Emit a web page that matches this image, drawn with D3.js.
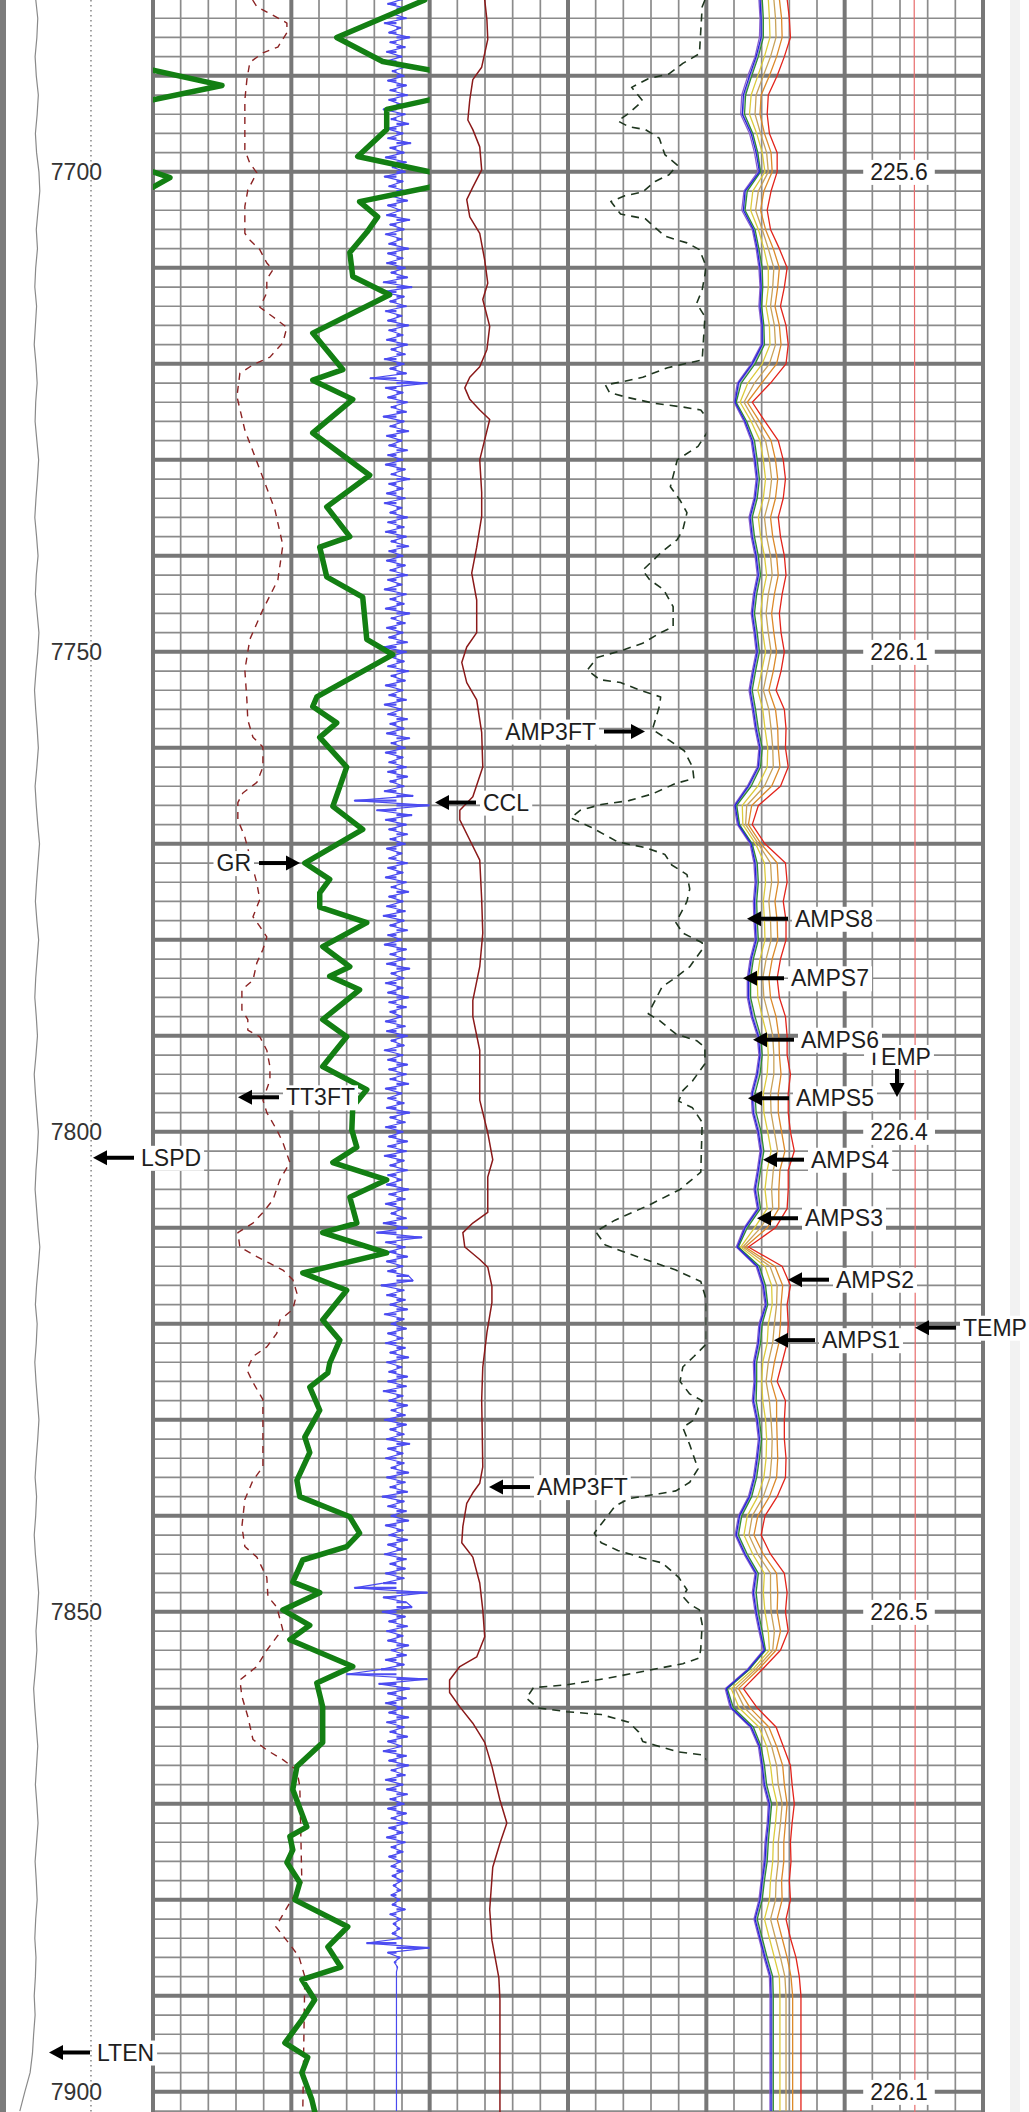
<!DOCTYPE html>
<html>
<head>
<meta charset="utf-8">
<script src="https://cdn.jsdelivr.net/npm/d3@7"></script>
<style>
  html, body { margin: 0; padding: 0; background: #fff; }
  svg { display: block; }
  text { font-family: "Liberation Sans", Arial, sans-serif; }
</style>
</head>
<body>
<svg id="log" width="1029" height="2112"></svg>
<script>
// ---------------- depth window ----------------
const depthTop = 7682.1;
const depthBottom = 7902.1;
const depthLabels = [7700, 7750, 7800, 7850, 7900];

// ---------------- track 1 : GR (API, wraps at 150), TT3FT (us), CCL ----------------
const grDepth = [7682.1,7686.0,7688.5,7689.4,7691.0,7692.5,7693.5,7695.6,7698.4,7700.0,
  7700.6,7701.6,7703.1,7704.7,7706.3,7708.4,7710.9,7712.8,7716.8,7720.6,
  7721.7,7723.7,7727.2,7731.6,7734.9,7738.0,7739.1,7742.2,7744.3,7748.7,
  7750.3,7754.7,7755.7,7757.4,7758.9,7762.0,7766.1,7768.5,7772.0,7773.7,
  7775.1,7776.6,7778.2,7780.7,7782.8,7783.8,7785.2,7788.3,7790.1,7793.2,
  7795.6,7797.4,7799.8,7801.6,7803.2,7805.0,7806.8,7809.5,7810.5,7812.6,
  7814.7,7816.5,7819.6,7821.7,7824.1,7825.1,7826.6,7829.0,7831.8,7833.4,
  7836.3,7838.0,7840.1,7841.8,7843.2,7844.6,7846.9,7848.0,7849.8,7851.4,
  7852.9,7855.7,7857.4,7859.9,7863.6,7866.1,7868.5,7872.4,7873.4,7874.8,
  7876.1,7878.2,7880.0,7882.8,7884.9,7887.0,7888.3,7890.4,7892.5,7894.9,
  7896.4,7898.0,7900.8,7902.1];
const grValue = [147.3,99.6,124.5,150,187.4,150,126.7,126.7,111,150,
  159.2,150,112,121.8,115.9,106.7,108.3,128.3,86.6,102.9,
  86.6,108.3,86.6,117.5,94.2,106.7,90.4,94.2,113.7,115.9,
  130,88.8,86.6,99.6,90.4,105,97.5,113.7,82.3,95.8,
  90.4,90.4,115.9,92,106.7,95.8,112,92,105,92,
  115.9,108.3,107.8,110.5,97.5,126.7,106.7,110.5,92,126.7,
  81.2,105,92,101.3,95.8,94.8,85,90.4,82.3,85,
  78,79.6,106.7,112,105,81.2,75.8,90.4,70.4,85,
  74.2,108.3,88.8,92,92,78,75.8,83.4,74.2,75.8,
  72.6,79.6,76.9,105.6,94.8,101.8,80.7,87.7,80.7,71.5,
  83.9,80.7,86.1,87.7];

const tt3Depth = [7682.1,7682.8,7683.9,7684.5,7685.5,7687.0,7687.6,7688.6,7690.4,7692.5,7697.7,
  7699.1,7700.1,7701.9,7703.6,7706.4,7707.1,7708.1,7709.5,7710.2,7711.2,
  7712.6,7714.1,7715.1,7716.2,7717.8,7719.3,7720.1,7721.0,7723.4,7726.9,
  7731.0,7735.2,7738.9,7742.5,7745.6,7748.7,7751.9,7755.0,7757.1,7758.9,
  7759.9,7762.0,7763.6,7764.7,7765.7,7767.5,7769.3,7774.1,7775.8,7777.6,
  7778.6,7779.7,7781.0,7782.4,7784.2,7785.2,7787.3,7788.3,7789.4,7790.1,
  7791.5,7793.2,7794.6,7796.7,7798.0,7799.8,7801.1,7803.2,7805.0,7807.1,
  7808.4,7809.5,7810.5,7812.0,7813.0,7813.7,7814.4,7815.4,7816.8,7818.5,
  7819.6,7821.0,7822.4,7823.4,7824.8,7826.1,7827.9,7834.9,7836.3,7838.3,
  7841.1,7843.2,7844.3,7846.4,7848.4,7849.5,7851.9,7852.6,7854.0,7855.7,
  7857.1,7858.8,7860.9,7863.3,7864.4,7865.4,7866.5,7868.2,7878.2,7880.3,
  7882.8,7884.5,7885.9,7888.0,7902.1];
const tt3Value = [254.0,256.3,267.1,272.6,272.6,267.7,259.6,252.5,250.9,249.8,249.8,
  252.5,256.3,251.4,249.8,249.8,252.5,257.9,261.7,265.0,261.7,
  261.7,257.9,265.0,272.6,270.4,263.4,254.2,247.1,245.5,249.8,
  257.9,266.1,270.4,267.7,259.6,252.5,249.8,250.9,251.4,254.2,
  259.6,259.6,256.3,248.7,246.0,246.0,249.8,256.3,257.9,254.2,
  257.9,261.7,259.6,256.3,254.2,248.2,248.2,251.4,251.4,257.9,
  261.7,263.4,263.4,259.6,261.7,267.1,270.4,274.2,268.8,265.0,
  259.6,254.2,246.0,247.1,256.3,263.4,270.4,275.8,278.0,275.8,
  268.8,267.1,261.7,254.2,250.9,254.2,259.6,259.6,254.2,249.8,
  248.2,249.8,256.3,261.7,262.3,267.1,270.4,267.1,261.7,256.3,
  247.1,248.2,251.4,254.2,261.7,270.4,278.0,279.6,280.7,274.2,
  266.6,273.6,279.1,282.3,281.2];

// CCL sampled every 0.5 ft from cclStart
const cclStart = 7682.0;
const cclStep = 0.5;
const cclValue = [
  0.6,-0.8,1.0,-0.5,0.9,-1.1,0.4,-0.7,1.2,-0.6,0.8,-0.9,0.5,-1.0,1.1,-0.4,0.7,-0.8,0.9,-0.6,
  1.0,-0.7,0.5,-1.2,0.8,-0.5,1.1,-0.9,0.6,-0.8,1.3,-0.6,0.7,-1.0,0.9,-0.4,0.8,-1.1,0.6,-0.7,
  0.9,-0.5,1.0,-0.8,0.4,-0.9,1.2,-0.6,0.7,-1.0,0.5,-0.7,1.1,-0.8,0.6,-0.9,0.8,-0.5,1.0,-1.2,
  1.4,-1.3,0.7,-0.6,0.9,-1.0,0.5,-0.8,1.1,-0.7,0.6,-0.9,1.0,-0.5,0.8,-1.1,0.7,-0.6,0.9,-2.4,
  2.8,-1.0,0.6,-0.8,1.0,-0.5,0.9,-1.2,0.7,-0.6,1.1,-0.9,0.5,-0.7,1.0,-0.8,0.6,-1.0,0.8,-0.5,
  1.2,-0.7,0.6,-0.9,0.8,-1.1,0.5,-0.6,1.0,-0.8,0.7,-1.0,0.9,-0.5,1.1,-0.7,0.6,-0.9,0.8,-0.6,
  1.0,-0.8,0.5,-1.1,0.9,-0.6,0.7,-1.0,1.2,-0.5,0.8,-0.9,0.6,-0.7,1.0,-1.2,0.9,-0.6,0.7,-0.8,
  1.1,-0.5,0.8,-1.0,0.6,-0.7,0.9,-1.1,0.5,-0.8,1.0,-0.6,0.7,-0.9,1.2,-0.5,0.8,-1.0,0.6,-0.7,
  0.9,-0.8,1.0,-0.6,0.7,-1.1,1.5,-3.8,3.0,-1.8,1.4,-1.0,0.9,-0.7,1.0,-0.6,0.8,-0.9,0.5,-0.7,
  1.0,-0.8,0.6,-1.0,0.9,-0.5,1.1,-0.7,0.6,-0.9,0.8,-1.2,0.7,-0.6,1.0,-0.8,0.5,-1.1,0.9,-0.6,
  0.8,-0.9,1.2,-0.5,0.7,-1.0,0.6,-0.8,1.1,-0.7,0.9,-0.6,0.5,-1.0,0.8,-0.9,1.0,-0.5,0.7,-1.1,
  0.6,-0.8,1.0,-0.7,0.9,-0.6,1.1,-1.0,0.5,-0.8,0.7,-0.9,1.2,-0.6,0.8,-1.0,0.6,-0.7,1.0,-0.8,
  0.9,-1.1,0.7,-0.6,1.0,-0.8,0.5,-0.9,1.1,-0.7,0.8,-1.0,0.6,-0.5,0.9,-1.2,1.0,-1.8,2.3,-1.0,
  0.8,-0.7,1.0,-0.9,0.6,-0.8,1.1,1.5,-1.4,0.7,-0.9,0.8,-0.6,1.0,-1.1,0.7,-0.5,0.9,-0.8,0.6,
  -1.0,0.8,-0.6,1.1,-0.9,0.5,-0.7,1.0,-0.8,0.9,-1.2,0.6,-0.7,1.0,-0.5,0.8,-1.1,0.9,-0.6,0.7,
  -0.9,1.2,-0.8,0.6,-1.0,0.7,-0.5,1.1,-0.9,0.8,-0.6,1.0,-1.3,0.7,-0.8,0.9,-0.5,1.1,-1.0,0.6,
  -0.7,1.0,-0.8,0.5,-1.1,0.9,-0.6,0.8,-1.0,0.7,-1.2,-3.8,2.8,-1.2,0.9,1.4,-1.3,0.8,-0.7,1.0,
  -0.9,0.6,-0.8,1.1,-0.5,0.9,-1.0,0.7,-1.4,-4.5,2.8,-1.6,1.2,-0.8,0.9,-1.0,0.6,-0.7,1.1,-0.9,
  0.7,-0.6,1.0,-0.8,0.5,-1.2,0.9,-0.7,1.1,-0.5,0.8,-1.0,0.6,-0.9,1.0,-0.6,0.7,-0.8,0.9,-0.5,
  1.0,-0.7,0.6,-0.9,0.8,-0.5,0.6,-0.7,0.4,-0.5,0.6,-0.4,0.5,-0.3,0.4,-0.5,0.3,-0.4,0.8,-0.6,
  0.4,-0.3,0.3,-0.4,0.5,-2.7,3.0,-0.8,0.3,-0.2,0.1,0,0,0,0,0,0,0,0,0,
  0,0,0,0,0,0,0,0,0,0,0,0,0,0,0,0,0,0,0,0,0];

// ---------------- track 2 : AMP3FT (mV) and AMP3FT x5 (dashed) ----------------
const ampDepth = [7682.1,7684.2,7686.2,7689.1,7690.4,7692.5,7694.6,7695.6,7697.4,7699.8,
  7701.6,7702.9,7704.7,7706.4,7709.2,7711.6,7713.3,7716.1,7718.5,7720.3,
  7721.4,7722.5,7723.7,7724.8,7725.8,7727.9,7730.0,7733.4,7735.9,7739.1,
  7741.8,7744.6,7748.0,7749.5,7751.1,7753.2,7755.0,7758.4,7762.0,7765.1,
  7766.5,7767.5,7769.6,7771.7,7775.8,7779.3,7782.8,7786.3,7788.0,7791.5,
  7796.7,7800.1,7802.9,7804.7,7808.4,7809.5,7810.5,7812.0,7813.3,7814.1,
  7816.1,7817.8,7820.9,7824.5,7827.9,7834.9,7836.6,7837.6,7838.7,7841.1,
  7842.8,7844.3,7847.0,7849.8,7852.6,7854.7,7855.7,7857.1,7858.4,7859.9,
  7861.6,7863.6,7866.1,7869.6,7872.0,7874.1,7876.6,7881.0,7884.2,7888.1,
  7890.4,7902.1];
const ampValue = [19.9,20.7,21.0,18.8,15.6,14.5,13.8,15.6,18.1,18.8,
  15.6,13.4,14.5,18.1,19.9,21.0,19.2,21.7,20.7,18.1,
  14.5,12.7,14.5,18.1,21.7,19.9,18.1,18.8,18.8,17.0,
  15.2,17.0,17.0,13.4,11.6,13.4,17.0,18.8,19.2,15.6,
  10.9,10.9,14.5,18.1,18.8,19.2,18.1,15.6,15.6,18.1,
  18.1,21.0,22.8,21.0,21.0,15.6,12.0,12.7,18.1,21.0,
  22.5,22.5,20.7,19.2,18.8,19.2,18.1,15.6,13.4,12.0,
  11.6,15.6,18.1,19.2,19.9,17.0,10.9,7.2,7.2,10.9,
  15.6,19.9,22.5,25.4,27.9,25.4,22.8,21.7,22.5,25.0,
  25.4,25.4];

const ampHiDepth = [7682.1,7682.8,7687.7,7688.7,7689.8,7690.3,7691.2,7692.6,7693.9,7694.7,
  7695.3,7695.6,7696.5,7698.2,7699.3,7700.3,7701.0,7702.1,7702.5,7703.1,
  7704.4,7704.9,7706.7,7707.4,7708.1,7709.9,7712.3,7713.7,7715.1,7719.6,
  7720.4,7721.4,7721.9,7722.2,7723.0,7723.5,7724.1,7724.5,7724.8,7726.4,
  7728.6,7730.0,7732.8,7734.2,7735.5,7737.3,7738.3,7739.7,7741.5,7742.5,
  7743.5,7745.3,7747.4,7748.0,7749.1,7749.8,7750.6,7751.9,7752.9,7753.2,
  7754.0,7754.7,7755.7,7758.1,7759.2,7760.3,7762.0,7763.2,7763.7,7764.8,
  7765.5,7765.9,7766.5,7767.3,7768.3,7769.8,7770.4,7771.1,7772.2,7773.2,
  7774.7,7776.0,7778.2,7779.3,7780.3,7781.0,7782.8,7783.9,7784.9,7787.7,
  7788.4,7789.8,7790.5,7791.2,7792.9,7794.7,7795.7,7796.8,7797.5,7799.0,
  7804.2,7806.0,7807.6,7809.2,7810.4,7811.8,7813.1,7814.4,7815.6,7817.5,
  7822.1,7823.4,7824.5,7826.0,7827.3,7828.0,7830.1,7830.8,7832.6,7835.1,
  7836.5,7837.4,7837.7,7838.2,7839.0,7840.3,7841.8,7842.8,7843.6,7844.4,
  7844.9,7846.4,7847.7,7848.4,7849.2,7849.8,7851.3,7853.8,7854.8,7855.4,
  7856.1,7856.9,7857.6,7857.9,7859.0,7860.0,7860.4,7860.7,7861.5,7862.5,
  7863.5,7863.9,7864.6,7864.9,7866.0,7902.1];
const ampHiValue = [19.9,19.7,19.5,18.3,17.3,15.8,14.6,15.4,14.4,13.6,
  14.4,15.6,16.6,17.0,17.9,17.3,16.3,15.4,14.1,13.1,
  13.8,15.6,17.0,18.6,19.5,20.0,19.7,19.3,19.9,19.7,
  17.2,15.4,13.8,12.7,13.0,14.3,16.2,18.3,19.6,20.4,
  19.4,17.9,17.4,18.1,18.6,18.3,17.9,16.7,15.4,15.9,
  16.9,17.6,17.6,16.7,15.4,14.0,12.1,11.4,12.3,13.8,
  15.2,16.7,16.6,16.1,17.3,18.4,19.0,19.1,17.8,16.1,
  14.4,12.4,10.9,10.2,11.7,13.6,15.6,17.0,17.5,18.6,
  18.8,18.6,17.8,18.3,19.7,19.7,18.8,17.8,16.8,15.8,
  16.6,17.8,19.3,19.9,19.9,19.0,18.3,18.0,19.0,19.7,
  19.6,18.1,15.9,13.4,12.0,12.7,15.2,17.8,19.6,20.0,
  20.0,19.1,18.3,18.1,18.8,19.7,19.0,18.3,18.8,19.4,
  18.8,17.8,16.6,14.4,13.4,12.7,11.9,12.4,13.6,15.4,
  16.8,18.0,18.6,18.3,18.8,19.5,19.7,19.6,19.5,18.3,
  15.8,12.9,9.9,7.5,7.0,7.8,9.9,12.4,14.4,15.1,
  15.4,16.3,18.0,19.7,20.4,20.4];

// ---------------- track 3 : sector amplitudes (mV) sampled every 2 ft, TEMP (degF) ----------------
const ampsTop = 7682, ampsBottom = 7902, ampsStep = 2;
const amps1 = [13.2,13.6,13.7,12.7,11.4,9.9,9.7,10.5,11.7,11.9,
  10.4,9.8,10.7,12.1,13.2,12.9,12.4,13.2,13.5,12.7,
  10.0,7.4,9.6,11.7,12.5,12.9,12.5,11.6,12.0,12.7,
  13.0,12.3,11.8,12.2,12.7,12.1,11.3,12.5,12.9,13.0,
  13.3,11.8,8.2,7.6,9.9,12.8,13.0,12.4,12.8,12.9,
  11.9,11.3,11.6,12.6,13.1,13.2,13.5,13.0,13.0,13.6,
  14.2,13.3,13.1,13.1,11.0,7.0,12.4,13.8,13.5,13.4,
  13.1,12.3,11.7,12.7,12.7,12.8,12.9,12.7,11.4,9.3,
  8.6,10.3,12.7,12.9,12.8,13.4,12.6,9.4,5.8,7.9,
  11.3,12.7,13.8,14.1,14.6,14.3,14.0,14.0,13.6,13.7,
  12.8,13.7,14.6,15.3,15.6,15.6,15.6,15.6,15.6,15.6,15.6];
const amps2 = [14.6,15.0,15.2,14.1,12.8,11.2,11.0,11.4,12.8,12.8,
  11.7,11.0,11.6,13.2,14.6,14.1,13.4,14.4,14.8,14.4,
  11.6,8.3,10.6,13.0,13.9,14.3,13.9,13.0,13.4,14.1,
  14.4,13.7,13.2,13.5,14.1,13.5,12.6,14.1,14.4,14.3,
  14.8,13.4,9.4,8.3,10.6,14.3,14.6,13.9,14.4,14.4,
  13.4,12.8,13.2,14.3,14.6,14.6,15.2,14.8,14.8,15.2,
  15.9,14.8,14.8,14.6,12.5,7.6,13.7,15.2,14.6,14.8,
  14.6,13.7,12.8,14.3,14.1,14.1,14.4,14.3,12.8,10.6,
  9.9,11.6,14.1,14.6,14.3,14.8,13.4,10.1,6.7,9.2,
  12.6,13.9,15.2,15.5,15.9,15.5,15.2,15.3,15.0,15.2,
  14.4,15.2,16.2,16.8,17.1,17.1,17.1,17.1,17.1,17.1,17.1];
const amps3 = [11.2,11.4,11.5,10.5,9.3,8.1,7.8,9.1,10.1,10.6,
  8.4,8.0,9.4,10.4,11.2,11.2,10.8,11.4,11.5,10.1,
  7.5,6.1,8.1,9.7,10.3,10.7,10.3,9.4,9.8,10.5,
  10.9,10.2,9.8,10.2,10.7,10.0,9.3,10.2,10.6,11.1,
  11.0,9.3,6.5,6.6,8.9,10.5,10.7,10.3,10.5,10.6,
  9.7,9.2,9.3,10.1,11.0,11.2,11.0,10.3,10.4,11.1,
  11.7,11.0,10.6,11.0,8.7,6.2,10.6,11.8,11.9,11.2,
  11.0,10.2,10.0,10.2,10.7,10.9,10.8,10.4,9.3,7.4,
  6.8,8.4,10.5,10.3,10.6,11.2,11.4,8.4,4.5,5.9,
  9.5,10.9,11.6,12.0,12.8,12.5,12.1,12.0,11.6,11.4,
  10.5,11.4,12.3,13.2,13.3,13.3,13.3,13.3,13.3,13.3,13.3];
const amps4 = [12.2,12.5,12.6,11.6,10.3,9.0,8.8,9.8,10.9,11.2,
  9.4,8.9,10.1,11.2,12.2,12.0,11.6,12.3,12.5,11.4,
  8.7,6.8,8.8,10.7,11.4,11.8,11.4,10.5,10.9,11.6,
  11.9,11.2,10.8,11.2,11.7,11.0,10.3,11.3,11.7,12.0,
  12.1,10.5,7.3,7.1,9.4,11.6,11.8,11.3,11.6,11.7,
  10.8,10.2,10.4,11.3,12.0,12.2,12.2,11.6,11.7,12.3,
  12.9,12.1,11.8,12.0,9.8,6.6,11.5,12.8,12.7,12.3,
  12.0,11.2,10.8,11.4,11.7,11.9,11.8,11.5,10.3,8.3,
  7.7,9.3,11.6,11.6,11.7,12.3,12.0,8.9,5.2,6.9,
  10.4,11.8,12.7,13.0,13.7,13.4,13.0,13.0,12.6,12.5,
  11.6,12.5,13.4,14.2,14.4,14.4,14.4,14.4,14.4,14.4,14.4];
const amps5 = [9.5,9.7,9.6,8.8,7.5,6.4,6.2,7.8,8.7,9.3,
  6.8,6.4,8.3,9.0,9.5,9.7,9.5,9.9,9.9,8.1,
  5.6,5.0,6.8,8.1,8.6,9.0,8.6,7.7,8.1,8.8,
  9.2,8.5,8.1,8.6,9.0,8.3,7.7,8.3,8.8,9.5,
  9.2,7.4,5.0,5.6,7.9,8.6,8.8,8.5,8.6,8.8,
  7.9,7.4,7.4,8.1,9.2,9.5,9.0,8.1,8.3,9.2,
  9.7,9.2,8.6,9.2,6.8,5.4,9.0,10.1,10.6,9.5,
  9.2,8.5,8.6,8.3,9.0,9.4,9.0,8.5,7.6,5.8,
  5.2,6.8,8.8,8.3,8.8,9.5,10.3,7.4,3.4,4.3,
  7.9,9.4,9.9,10.3,11.2,11.0,10.6,10.4,9.9,9.5,
  8.6,9.5,10.4,11.4,11.5,11.5,11.5,11.5,11.5,11.5,11.5];
const amps6 = [9.7,9.9,9.9,9.0,7.8,6.7,6.5,8.1,9.0,9.6,
  7.0,6.7,8.5,9.2,9.7,9.9,9.7,10.1,10.1,8.3,
  5.8,5.2,7.0,8.3,8.8,9.2,8.8,7.9,8.3,9.0,
  9.4,8.7,8.3,8.8,9.2,8.5,7.9,8.5,9.0,9.7,
  9.4,7.6,5.2,5.8,8.1,8.8,9.0,8.7,8.8,9.0,
  8.1,7.6,7.6,8.3,9.4,9.7,9.2,8.3,8.5,9.4,
  9.9,9.4,8.8,9.4,7.0,5.6,9.2,10.3,10.8,9.7,
  9.4,8.7,8.8,8.5,9.2,9.6,9.2,8.7,7.8,6.0,
  5.4,7.0,9.0,8.5,9.0,9.7,10.5,7.6,3.6,4.5,
  8.1,9.6,10.1,10.5,11.4,11.2,10.8,10.6,10.1,9.7,
  8.8,9.7,10.6,11.6,11.7,11.7,11.7,11.7,11.7,11.7,11.7];
const amps7 = [9.8,10.0,10.1,9.2,8.0,6.9,6.6,8.3,9.2,9.7,
  7.2,6.9,8.6,9.4,9.9,10.0,9.8,10.2,10.3,8.5,
  6.0,5.3,7.2,8.5,9.0,9.4,9.0,8.1,8.5,9.2,
  9.6,8.9,8.5,9.0,9.4,8.7,8.1,8.7,9.2,9.9,
  9.6,7.8,5.4,5.9,8.2,9.0,9.2,8.9,9.0,9.2,
  8.3,7.8,7.8,8.5,9.6,9.9,9.4,8.5,8.7,9.6,
  10.1,9.6,9.0,9.6,7.2,5.7,9.4,10.5,11.0,9.9,
  9.6,8.9,9.0,8.7,9.4,9.8,9.4,8.9,8.0,6.2,
  5.6,7.2,9.2,8.7,9.2,9.9,10.6,7.7,3.7,4.7,
  8.3,9.7,10.3,10.7,11.6,11.4,11.0,10.8,10.3,9.9,
  9.0,9.9,10.8,11.8,11.9,11.9,11.9,11.9,11.9,11.9,11.9];
const amps8 = [10.1,10.3,10.3,9.4,8.2,7.1,6.9,8.4,9.3,9.8,
  7.4,7.0,8.8,9.5,10.1,10.2,10.0,10.4,10.5,8.8,
  6.3,5.4,7.3,8.7,9.2,9.6,9.2,8.3,8.7,9.4,
  9.8,9.1,8.7,9.2,9.6,8.9,8.3,8.9,9.4,10.1,
  9.8,8.1,5.5,6.0,8.3,9.2,9.4,9.1,9.2,9.4,
  8.5,8.0,8.0,8.8,9.8,10.1,9.7,8.8,9.0,9.9,
  10.4,9.8,9.3,9.8,7.4,5.8,9.6,10.7,11.1,10.1,
  9.8,9.1,9.1,9.0,9.6,10.0,9.6,9.1,8.2,6.4,
  5.8,7.4,9.4,9.0,9.4,10.1,10.7,7.8,3.8,4.9,
  8.5,9.9,10.5,10.9,11.8,11.5,11.2,11.0,10.5,10.1,
  9.2,10.1,11.0,12.0,12.1,12.1,12.1,12.1,12.1,12.1,12.1];

const tempDepth = [7682.1,7700,7725,7750,7775,7800,7825,7850,7875,7900,7902.1];
const tempValue = [225.4,225.6,225.9,226.1,226.3,226.4,226.5,226.5,226.3,226.1,226.1];

// ---------------- depth track : line tension (lbf, 2 ft samples) and line speed (ft/min) ----------------
const ltenValue = [1010,1080,1050,990,1030,1100,1060,1000,1040,1120,1150,1090,1030,1070,1010,980,1040,1000,960,1020,
  1060,1010,990,1050,1110,1070,1020,980,1040,1090,1030,1000,1060,1120,1080,1020,970,1010,1060,1100,
  1050,990,1030,1080,1140,1090,1040,1000,1050,1110,1060,1010,980,1030,1070,1020,960,1000,1050,1100,
  1070,1020,990,1040,1090,1150,1100,1040,1000,1060,1030,980,1020,1070,1120,1080,1030,990,1040,1010,
  960,1000,1060,1110,1070,1020,1050,1000,940,980,1030,1080,1040,1000,1050,1090,1040,990,1030,1060,
  1010,980,1020,1000,960,990,940,900,820,640,470];
const lspdDepth = [7682.1,7740,7800,7860,7902.1];
const lspdValue = [57.8,57.8,57.9,57.8,57.8];

// ---------------- drawing ----------------
const W = 1029, H = 2112;
const svg = d3.select("#log");
const y = d3.scaleLinear().domain([depthTop, depthBottom]).range([0, H]);
const gridX = d3.scaleLinear().domain([0, 30]).range([153, 983]);
const track = {
  depth: [6, gridX(0)],
  t1: [gridX(0), gridX(10)],
  t2: [gridX(10), gridX(20)],
  t3: [gridX(20), gridX(30)]
};

const grX = d3.scaleLinear().domain([0, 150]).range(track.t1);
const grWrapX = d3.scaleLinear().domain([150, 300]).range(track.t1);
const tt3X = d3.scaleLinear().domain([200, 350]).range(track.t1);
const cclX = d3.scaleLinear().domain([-22, 3]).range(track.t1);
const ampX = d3.scaleLinear().domain([0, 100]).range(track.t2);
const ampHiX = d3.scaleLinear().domain([0, 20]).range(track.t2);
const ampsX = d3.scaleLinear().domain([0, 50]).range(track.t3);
const tempX = d3.scaleLinear().domain([0, 300]).range(track.t3);
const ltenX = d3.scaleLinear().domain([0, 5000]).range(track.depth);
const lspdX = d3.scaleLinear().domain([0, 100]).range(track.depth);

// backgrounds
svg.append("rect").attr("width", W).attr("height", H).attr("fill", "#fff");
svg.append("rect").attr("x", 0).attr("y", 0).attr("width", 6).attr("height", H).attr("fill", "#7c7c7c");
svg.append("rect").attr("x", 1010).attr("y", 0).attr("width", 10).attr("height", H).attr("fill", "#f2f2f2");

// clip paths per track
const defs = svg.append("defs");
Object.entries(track).forEach(([k, r]) => {
  defs.append("clipPath").attr("id", "clip-" + k)
    .append("rect").attr("x", r[0]).attr("y", 0).attr("width", r[1] - r[0]).attr("height", H);
});

// grid
const grid = svg.append("g");
const hDepths = d3.range(Math.ceil(depthTop / 2) * 2, depthBottom, 2);
const cols = d3.range(0, 31);
const minorColor = "#8b8b8b", majorColor = "#777";
grid.selectAll(".vmin").data(cols.filter(i => i % 5)).join("line")
  .attr("x1", d => gridX(d)).attr("x2", d => gridX(d)).attr("y1", 0).attr("y2", H)
  .attr("stroke", minorColor).attr("stroke-width", 1.7);
grid.selectAll(".hmin").data(hDepths.filter(d => d % 10)).join("line")
  .attr("x1", gridX(0)).attr("x2", gridX(30)).attr("y1", d => y(d)).attr("y2", d => y(d))
  .attr("stroke", minorColor).attr("stroke-width", 1.7);
grid.selectAll(".hmaj").data(hDepths.filter(d => d % 10 === 0)).join("line")
  .attr("x1", gridX(0)).attr("x2", gridX(30)).attr("y1", d => y(d)).attr("y2", d => y(d))
  .attr("stroke", majorColor).attr("stroke-width", 4);
grid.selectAll(".vmaj").data(cols.filter(i => i % 5 === 0)).join("line")
  .attr("x1", d => gridX(d)).attr("x2", d => gridX(d)).attr("y1", 0).attr("y2", H)
  .attr("stroke", majorColor).attr("stroke-width", 4);

// helpers
const zip = (ds, vs) => ds.map((d, i) => [d, vs[i]]);
const lineFor = xs => d3.line().x(p => xs(p[1])).y(p => y(p[0]));
function curve(g, pts, xs, style) {
  const p = g.append("path").datum(pts).attr("d", lineFor(xs)).attr("fill", "none")
    .attr("stroke", style.color).attr("stroke-width", style.width)
    .attr("stroke-linejoin", "round").attr("stroke-linecap", style.cap || "butt");
  if (style.dash) p.attr("stroke-dasharray", style.dash);
  return p;
}

// depth track
const gDepth = svg.append("g").attr("clip-path", "url(#clip-depth)");
const ltenDepth = d3.range(ampsTop, ampsBottom + 1, ampsStep);
curve(gDepth, zip(ltenDepth, ltenValue), ltenX, { color: "#8a8a8a", width: 1.2 });
curve(gDepth, zip(lspdDepth, lspdValue), lspdX, { color: "#8c8c8c", width: 1.6, dash: "1.5,3.5" });

// track 1
const g1 = svg.append("g").attr("clip-path", "url(#clip-t1)");
curve(g1, zip(tt3Depth, tt3Value), tt3X, { color: "#8b2323", width: 1.4, dash: "7,6" });
// CCL: trace plus horizontal excursions from the zero line
const cclPts = cclValue.map((v, i) => [cclStart + i * cclStep, v]);
g1.append("path")
  .attr("d", cclPts.map(p => `M${cclX(0)},${y(p[0])}H${cclX(p[1])}`).join(""))
  .attr("stroke", "#5050f2").attr("stroke-width", 2.2).attr("fill", "none");
curve(g1, cclPts, cclX, { color: "#4a4af0", width: 1.2 });
const grPts = zip(grDepth, grValue);
curve(g1, grPts, grX, { color: "#137f13", width: 5.5, cap: "round" });
curve(g1, grPts, grWrapX, { color: "#137f13", width: 5.5, cap: "round" });

// track 2
const g2 = svg.append("g").attr("clip-path", "url(#clip-t2)");
curve(g2, zip(ampDepth, ampValue), ampX, { color: "#8b1a1a", width: 1.5 });
curve(g2, zip(ampHiDepth, ampHiValue), ampHiX, { color: "#1f361f", width: 1.6, dash: "8,6" });

// track 3
const g3 = svg.append("g").attr("clip-path", "url(#clip-t3)");
const ampsDepth = d3.range(ampsTop, ampsBottom + 1, ampsStep);
const ampsSeries = [
  { v: amps7, color: "#a393d9" },
  { v: amps5, color: "#8a5fd0" },
  { v: amps8, color: "#2f8f2f" },
  { v: amps6, color: "#2424d8" },
  { v: amps3, color: "#dccb3c" },
  { v: amps4, color: "#c9a35a" },
  { v: amps1, color: "#dc8a2a" },
  { v: amps2, color: "#e3241b" }
];
ampsSeries.forEach(s => curve(g3, zip(ampsDepth, s.v), ampsX, { color: s.color, width: 1.3 }));
curve(g3, zip(tempDepth, tempValue), tempX, { color: "#e86b6b", width: 1.2 });

// depth numbers
const depthAxis = d3.axisLeft(y).tickValues(depthLabels).tickSize(0).tickPadding(0).tickFormat(d3.format("d"));
svg.append("g").attr("transform", "translate(102,0)").call(depthAxis)
  .attr("font-size", 23).attr("font-family", "Liberation Sans, Arial, sans-serif")
  .call(g => g.select(".domain").remove())
  .selectAll("text").attr("fill", "#333");

// annotation helpers
const ann = svg.append("g");
const FONT = 23, ARROW = 41, HEAD = 14, HALF = 7.5, GAP = 6;
function boxedText(x, yy, txt, anchor) {
  const g = ann.append("g");
  const rect = g.append("rect").attr("fill", "#fff");
  const t = g.append("text").attr("x", x).attr("y", yy).attr("dy", "0.35em")
    .attr("text-anchor", anchor).attr("font-size", FONT).attr("fill", "#1e1e1e").text(txt);
  const b = t.node().getBBox();
  rect.attr("x", b.x - 3).attr("y", b.y + 1).attr("width", b.width + 6).attr("height", b.height - 1);
  return g;
}
function arrowH(tip, tail, yy) {
  const dir = Math.sign(tail - tip);
  ann.append("line").attr("x1", tail).attr("x2", tip + dir * (HEAD - 1)).attr("y1", yy).attr("y2", yy)
    .attr("stroke", "#000").attr("stroke-width", 4);
  ann.append("path").attr("fill", "#000")
    .attr("d", `M${tip},${yy}L${tip + dir * HEAD},${yy - HALF}L${tip + dir * HEAD},${yy + HALF}Z`);
}
function arrowV(x, top, tip) {
  ann.append("line").attr("x1", x).attr("x2", x).attr("y1", top).attr("y2", tip - HEAD + 1)
    .attr("stroke", "#000").attr("stroke-width", 4);
  ann.append("path").attr("fill", "#000")
    .attr("d", `M${x},${tip}L${x - HALF},${tip - HEAD}L${x + HALF},${tip - HEAD}Z`);
}

// temperature readouts on the 50 ft lines
depthLabels.forEach(d => {
  const v = tempValue[tempDepth.indexOf(d)];
  const g = boxedText(899, y(d), d3.format(".1f")(v), "middle");
  g.select("rect").attr("x", +g.select("rect").attr("x") - 4).attr("width", +g.select("rect").attr("width") + 8);
});

// curve name tags (layout: depth, arrow tip x, pointing direction)
const tags = [
  { text: "LSPD", depth: 7802.7, tip: 93, dir: "left" },
  { text: "LTEN", depth: 7895.9, tip: 49, dir: "left" },
  { text: "GR", depth: 7772.0, tip: 300, dir: "right" },
  { text: "TT3FT", depth: 7796.4, tip: 238, dir: "left" },
  { text: "CCL", depth: 7765.7, tip: 435, dir: "left" },
  { text: "AMP3FT", depth: 7758.3, tip: 645, dir: "right" },
  { text: "AMP3FT", depth: 7837.0, tip: 489, dir: "left" },
  { text: "TEMP", depth: 7792.2, tip: 897, dir: "down", cx: 899 },
  { text: "TEMP", depth: 7820.4, tip: 915, dir: "left" },
  { text: "AMPS8", depth: 7777.8, tip: 747, dir: "left" },
  { text: "AMPS7", depth: 7784.0, tip: 743, dir: "left" },
  { text: "AMPS6", depth: 7790.4, tip: 753, dir: "left" },
  { text: "AMPS5", depth: 7796.5, tip: 748, dir: "left" },
  { text: "AMPS4", depth: 7802.9, tip: 763, dir: "left" },
  { text: "AMPS3", depth: 7809.0, tip: 757, dir: "left" },
  { text: "AMPS2", depth: 7815.4, tip: 788, dir: "left" },
  { text: "AMPS1", depth: 7821.7, tip: 774, dir: "left" }
];
tags.forEach(t => {
  const yy = y(t.depth);
  if (t.dir === "left") {
    arrowH(t.tip, t.tip + ARROW, yy);
    boxedText(t.tip + ARROW + GAP + 1, yy, t.text, "start");
  } else if (t.dir === "right") {
    arrowH(t.tip, t.tip - ARROW, yy);
    boxedText(t.tip - ARROW - GAP - 2, yy, t.text, "end");
  } else {
    boxedText(t.cx, yy, t.text, "middle");
    arrowV(t.tip, yy + 12, yy + 40);
  }
});
</script>
</body>
</html>
